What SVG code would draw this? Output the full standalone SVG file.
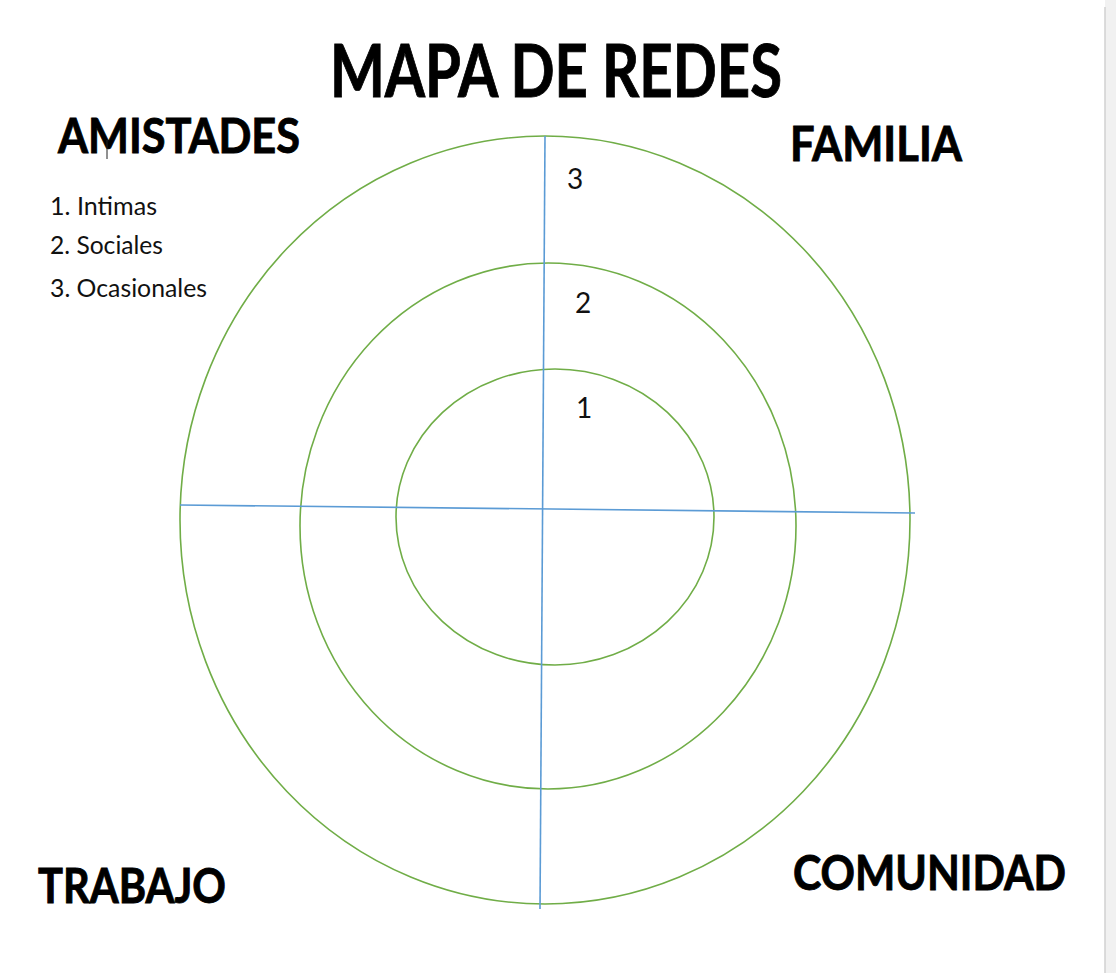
<svg xmlns="http://www.w3.org/2000/svg" width="1116" height="973" viewBox="0 0 1116 973">
<style>
.ring{fill:none;stroke:#70ad47;stroke-width:1.6}
.axis{stroke:#5b9bd5;stroke-width:1.6;fill:none}
.h{font-family:Lato,"Open Sans","Liberation Sans",sans-serif;font-weight:bold;fill:#000;stroke:#000;stroke-width:0.9}
.t{font-family:Lato,"Open Sans","Liberation Sans",sans-serif;fill:#111}
</style>
<rect width="1116" height="973" fill="#fff"/>
<rect x="1105" y="0" width="11" height="973" fill="#f1f1f1"/>
<line x1="1105" y1="7" x2="1105" y2="973" stroke="#d0d0d0" stroke-width="1.5"/>
<g id="rings">
<ellipse id="ring3" class="ring" cx="545" cy="520" rx="365" ry="384"/>
<ellipse id="ring2" class="ring" cx="548" cy="526" rx="248" ry="263"/>
<ellipse id="ring1" class="ring" cx="555" cy="517" rx="159" ry="148"/>
</g>
<g id="connectors">
<line class="axis" x1="545" y1="136" x2="540" y2="909"/>
<line class="axis" x1="180" y1="505" x2="915" y2="513"/>
</g>
<g id="title"><text class="h" x="330" y="97" font-size="72" textLength="452" lengthAdjust="spacingAndGlyphs">MAPA DE REDES</text></g>
<g id="amistades">
<text class="h" x="58" y="153" font-size="48" textLength="242" lengthAdjust="spacingAndGlyphs">AMISTADES</text>
<line x1="107" y1="140" x2="107" y2="159" stroke="#222" stroke-width="1"/>
<text class="t" x="50" y="215" font-size="25" textLength="107" lengthAdjust="spacingAndGlyphs">1. Intimas</text>
<text class="t" x="50" y="254" font-size="25" textLength="113" lengthAdjust="spacingAndGlyphs">2. Sociales</text>
<text class="t" x="50" y="297" font-size="25" textLength="157" lengthAdjust="spacingAndGlyphs">3. Ocasionales</text>
</g>
<g id="familia"><text class="h" x="790" y="161" font-size="48" textLength="172" lengthAdjust="spacingAndGlyphs">FAMILIA</text></g>
<g id="trabajo"><text class="h" x="38" y="903" font-size="48" textLength="188" lengthAdjust="spacingAndGlyphs">TRABAJO</text></g>
<g id="comunidad"><text class="h" x="793" y="890" font-size="48" textLength="273" lengthAdjust="spacingAndGlyphs">COMUNIDAD</text></g>
<g id="levels">
<text class="t" x="567" y="189" font-size="28">3</text>
<text class="t" x="575" y="313" font-size="28">2</text>
<text class="t" x="576" y="418" font-size="28">1</text>
</g>
</svg>
